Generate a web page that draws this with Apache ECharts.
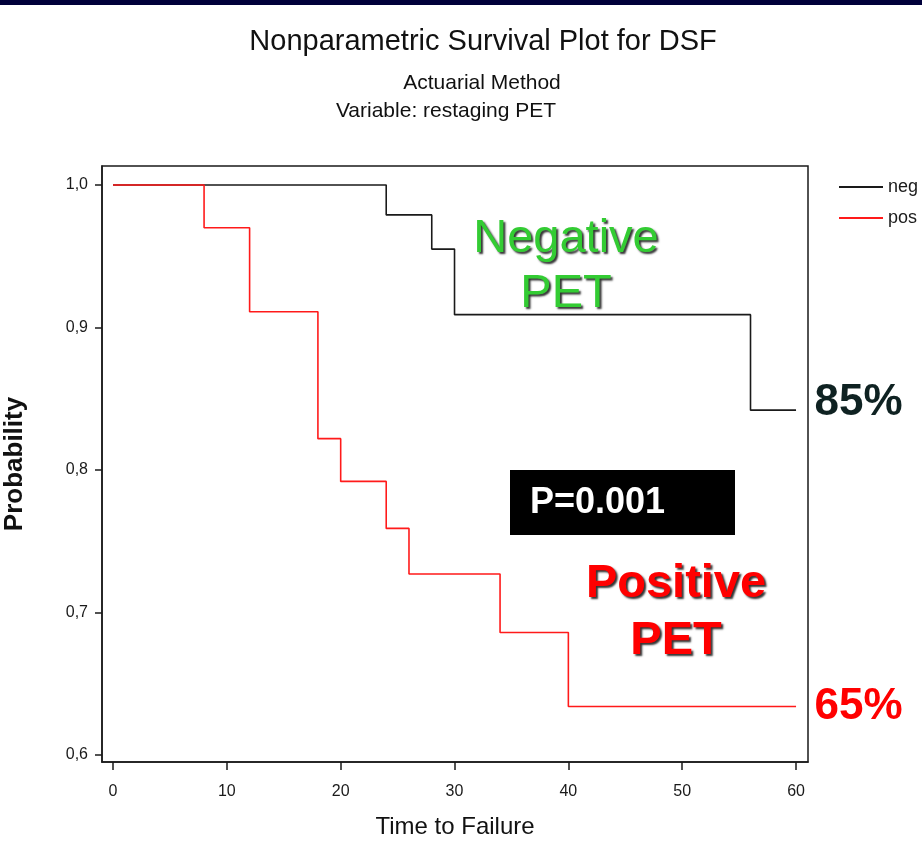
<!DOCTYPE html>
<html>
<head>
<meta charset="utf-8">
<title>Nonparametric Survival Plot for DSF</title>
<script src="https://cdn.jsdelivr.net/npm/echarts@6/dist/echarts.min.js"></script>
<style>
  html, body { margin: 0; padding: 0; background: #fff; }
  #chart { width: 922px; height: 856px; }
</style>
</head>
<body>
<div id="chart"></div>
<script>
// Actuarial survival estimates by restaging PET result (time in months)
var negTime = [0, 24, 28, 30, 56, 60];
var negSurv = [1.0, 0.979, 0.955, 0.909, 0.842, 0.842];
var posTime = [0, 8, 12, 18, 20, 24, 26, 34, 40, 60];
var posSurv = [1.0, 0.970, 0.911, 0.822, 0.792, 0.759, 0.727, 0.686, 0.634, 0.634];

var xTicks = [0, 10, 20, 30, 40, 50, 60];
var yTicks = [0.6, 0.7, 0.8, 0.9, 1.0];

var seriesNames = ['neg', 'pos'];
var endLabels = ['85%', '65%'];
var pValueText = 'P=0.001';

var FONT = "'Liberation Sans', Arial, sans-serif";

function pairs(xs, ys) {
  return xs.map(function (x, i) { return [x, ys[i]]; });
}

var chart = echarts.init(document.getElementById('chart'), null, { renderer: 'canvas' });

var shadow = {
  textShadowColor: 'rgba(0,0,0,0.8)',
  textShadowBlur: 2,
  textShadowOffsetX: 2,
  textShadowOffsetY: 2
};

chart.setOption({
  backgroundColor: '#ffffff',
  animation: false,
  grid: {
    left: 102, right: 114, top: 166, bottom: 94,
    outerBoundsMode: 'none',
    containLabel: false,
    show: true, borderColor: '#1a1a1a', borderWidth: 1.5, backgroundColor: 'transparent'
  },
  legend: {
    orient: 'vertical',
    left: 834, top: 173,
    itemWidth: 44, itemHeight: 2, itemGap: 13,
    icon: 'rect',
    data: seriesNames,
    textStyle: { fontFamily: FONT, fontSize: 18, color: '#1a1a1a', lineHeight: 18 }
  },
  xAxis: {
    type: 'value',
    min: -0.966, max: 61.05,
    name: 'Time to Failure',
    nameLocation: 'middle',
    nameGap: 53,
    nameTextStyle: { fontFamily: FONT, fontSize: 24, color: '#111' },
    axisLine: { show: true, onZero: false, lineStyle: { color: '#1a1a1a', width: 1.5 } },
    axisTick: { show: true, length: 8, customValues: xTicks, lineStyle: { color: '#1a1a1a', width: 1.5 } },
    axisLabel: {
      customValues: xTicks, margin: 22,
      fontFamily: FONT, fontSize: 16, color: '#1a1a1a'
    },
    splitLine: { show: false }
  },
  yAxis: {
    type: 'value',
    min: 0.5951, max: 1.0133,
    name: 'Probability',
    nameLocation: 'middle',
    nameGap: 74,
    nameTextStyle: { fontFamily: FONT, fontSize: 26, fontWeight: 'bold', color: '#111' },
    axisLine: { show: true, onZero: false, lineStyle: { color: '#1a1a1a', width: 1.5 } },
    axisTick: { show: true, length: 7, customValues: yTicks, lineStyle: { color: '#1a1a1a', width: 1.5 } },
    axisLabel: {
      customValues: yTicks, margin: 14,
      fontFamily: FONT, fontSize: 16, color: '#1a1a1a',
      formatter: function (v) { return v.toFixed(1).replace('.', ','); }
    },
    splitLine: { show: false }
  },
  series: [
    {
      name: seriesNames[0],
      type: 'line',
      step: 'end',
      data: pairs(negTime, negSurv),
      showSymbol: false,
      color: '#1a1a1a',
      lineStyle: { color: '#1a1a1a', width: 1.6 },
      z: 3,
      markPoint: {
        symbol: 'circle', symbolSize: 1,
        itemStyle: { color: 'rgba(0,0,0,0)' },
        data: [{
          coord: [negTime[negTime.length - 1], negSurv[negSurv.length - 1]],
          label: {
            show: true, position: 'right', distance: 18, offset: [0, -7],
            formatter: endLabels[0],
            fontFamily: FONT, fontSize: 44, fontWeight: 'bold', color: '#0f2222'
          }
        }]
      }
    },
    {
      name: seriesNames[1],
      type: 'line',
      step: 'end',
      data: pairs(posTime, posSurv),
      showSymbol: false,
      color: '#ff1a1a',
      lineStyle: { color: '#ff1a1a', width: 1.6 },
      z: 4,
      markPoint: {
        symbol: 'circle', symbolSize: 1,
        itemStyle: { color: 'rgba(0,0,0,0)' },
        data: [{
          coord: [posTime[posTime.length - 1], posSurv[posSurv.length - 1]],
          label: {
            show: true, position: 'right', distance: 18,
            formatter: endLabels[1],
            fontFamily: FONT, fontSize: 44, fontWeight: 'bold', color: '#ff0000'
          }
        }]
      }
    }
  ],
  graphic: [
    // navy band across the top edge
    { type: 'rect', left: 0, top: 0, shape: { width: 922, height: 5 }, style: { fill: '#00003a' } },
    {
      type: 'text', x: 483, y: 42,
      style: { text: 'Nonparametric Survival Plot for DSF', fontFamily: FONT, fontSize: 29,
               fill: '#111', textAlign: 'center', textVerticalAlign: 'middle' }
    },
    {
      type: 'text', x: 482, y: 83,
      style: { text: 'Actuarial Method', fontFamily: FONT, fontSize: 21,
               fill: '#111', textAlign: 'center', textVerticalAlign: 'middle' }
    },
    {
      type: 'text', x: 446, y: 111,
      style: { text: 'Variable: restaging PET', fontFamily: FONT, fontSize: 21,
               fill: '#111', textAlign: 'center', textVerticalAlign: 'middle' }
    },
    {
      type: 'text', x: 566, y: 267, z: 10,
      style: Object.assign({ text: 'Negative\nPET', fontFamily: FONT, fontSize: 47, lineHeight: 55,
               fill: '#33cc33', textAlign: 'center', textVerticalAlign: 'middle' }, shadow)
    },
    {
      type: 'text', x: 676, y: 613, z: 10,
      style: Object.assign({ text: 'Positive\nPET', fontFamily: FONT, fontSize: 47, fontWeight: 'bold', lineHeight: 57,
               fill: '#ff0000', textAlign: 'center', textVerticalAlign: 'middle' }, shadow)
    },
    { type: 'rect', left: 510, top: 470, z: 10, shape: { width: 225, height: 65 }, style: { fill: '#000000' } },
    {
      type: 'text', x: 530, y: 503, z: 11,
      style: { text: pValueText, fontFamily: FONT, fontSize: 36, fontWeight: 'bold',
               fill: '#ffffff', textAlign: 'left', textVerticalAlign: 'middle' }
    }
  ]
});
</script>
</body>
</html>
